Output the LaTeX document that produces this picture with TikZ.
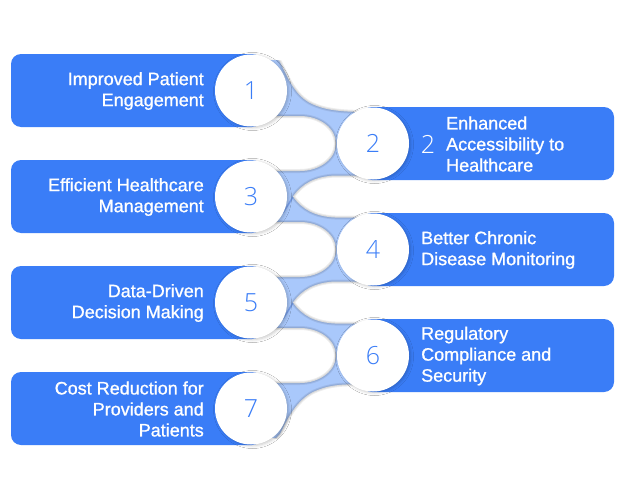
\documentclass[tikz,border=0pt]{standalone}
\usepackage{fontspec}
\setmainfont{Liberation Sans}
\newfontfamily\lblfont[FakeBold=1.0]{Liberation Sans}
\IfFontExistsTF{NotoSans-Light.ttf}{\newfontfamily\numfont{NotoSans-Light.ttf}}{%
  \IfFontExistsTF{OpenSans-Light.ttf}{\newfontfamily\numfont{OpenSans-Light.ttf}}{%
    \newfontfamily\numfont{Liberation Sans}}}
\usetikzlibrary{shadows.blur}
\definecolor{barblue}{RGB}{58,125,247}
\definecolor{lightband}{RGB}{169,200,251}
\definecolor{numblue}{RGB}{58,125,247}
\definecolor{tipline}{RGB}{120,160,235}
\begin{document}
\begin{tikzpicture}[x=1pt,y=-1pt,
  bar/.style={fill=barblue, rounded corners=10pt},
  numcirc/.style={circle, fill=white, minimum size=72pt, inner sep=0pt, text=numblue,
    font=\numfont\fontsize{25}{25}\selectfont,
    blur shadow={shadow xshift=1.5pt, shadow yshift=-1pt, shadow blur radius=3pt, shadow opacity=22}},
  lbl/.style={text=white, font=\lblfont\fontsize{18}{21}\selectfont, inner sep=0pt},
  tongue/.style={fill=white,
    postaction={draw=black, draw opacity=0.07, line width=4pt},
    postaction={draw=black, draw opacity=0.08, line width=2pt}}
]
\useasboundingbox (0,0) rectangle (625,498);
\fill[white] (0,0) rectangle (625,498);

% connecting band
\begin{scope}
\clip (262,60) rectangle (364,438);
\fill[lightband] (262,60) rectangle (364,438);
% small darker streaks near tongue tips
\draw[tipline, line width=1.5pt] (293,197) -- (283,213);
\draw[tipline, line width=1.5pt] (293,303) -- (283,319);
% top and bottom tongues
\path[tongue] (240,20) -- (280,62) .. controls (288,78) and (295,96) .. (312,104)
  .. controls (325,110) and (340,112) .. (368,112) -- (420,20) -- cycle;
\path[tongue] (240,478) -- (280,434) .. controls (288,418) and (296,401) .. (313,392)
  .. controls (326,386) and (340,383) .. (368,385) -- (420,478) -- cycle;
% left tongues
\foreach \yc in {143.5,249.5,355.5}{
  \path[tongue] (200,\yc-27.5) -- (300,\yc-27.5) arc[start angle=-90, end angle=90, x radius=36, y radius=27.5]
    -- (200,\yc+27.5) -- cycle;
}
% right tongues
\foreach \yc in {196.5,302.5}{
  \path[tongue] (293,\yc) .. controls (302,\yc-13) and (315,\yc-20) .. (335,\yc-21)
    -- (400,\yc-21) -- (400,\yc+21) -- (335,\yc+21)
    .. controls (315,\yc+20) and (302,\yc+13) .. (293,\yc) -- cycle;
}
\end{scope}

% bars
\fill[bar] (11,54) rectangle (262,127);
\fill[bar] (11,160) rectangle (262,233);
\fill[bar] (11,266) rectangle (262,339);
\fill[bar] (11,372) rectangle (262,445);
\fill[bar] (362,107) rectangle (614,180);
\fill[bar] (362,213) rectangle (614,286);
\fill[bar] (362,319) rectangle (614,392);

% circles
\node[numcirc] (c1) at (251,90.5) {1};
\node[numcirc] (c3) at (251,196.5) {3};
\node[numcirc] (c5) at (251,302.5) {5};
\node[numcirc] (c7) at (251,408.5) {7};
\node[numcirc] (c2) at (373,143.5) {2};
\node[numcirc] (c4) at (373,249.5) {4};
\node[numcirc] (c6) at (373,355.5) {6};

% labels
\node[lbl, anchor=east, align=right] (t1) at (204,91) {Improved Patient\\Engagement};
\node[lbl, anchor=east, align=right] (t3) at (204,197) {Efficient Healthcare\\Management};
\node[lbl, anchor=east, align=right] (t5) at (204,303) {Data-Driven\\Decision Making};
\node[lbl, anchor=east, align=right] (t7) at (204,409) {Cost Reduction for\\Providers and\\Patients};
\node[text=white, font=\numfont\fontsize{25}{25}\selectfont, inner sep=0pt] (t2n) at (428,144) {2};
\node[lbl, anchor=west, align=left] (t2) at (446,144) {Enhanced\\Accessibility to\\Healthcare};
\node[lbl, anchor=west, align=left] (t4) at (421,250) {Better Chronic\\Disease Monitoring};
\node[lbl, anchor=west, align=left] (t6) at (421,356) {Regulatory\\Compliance and\\Security};
\end{tikzpicture}
\end{document}
